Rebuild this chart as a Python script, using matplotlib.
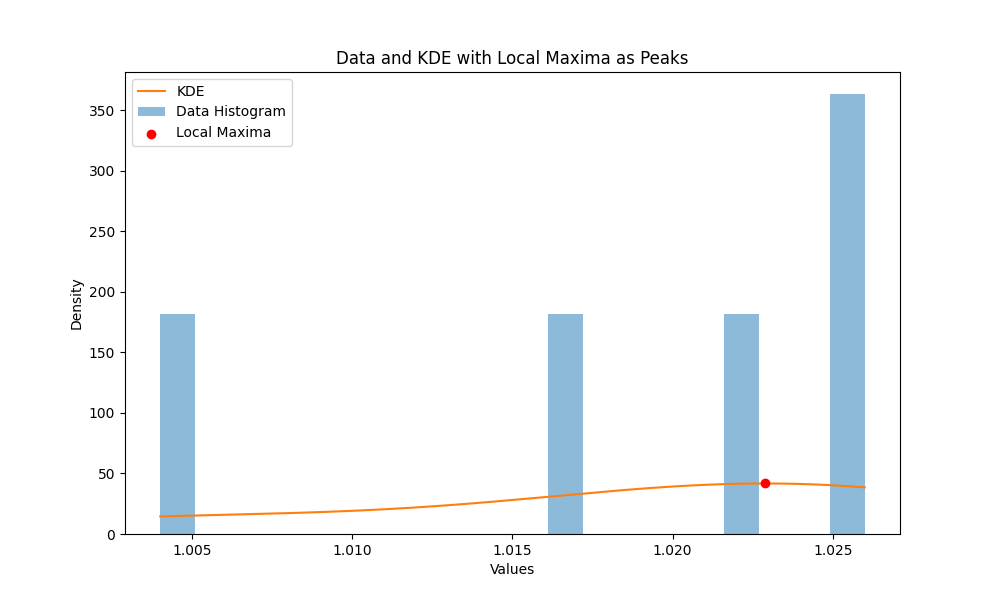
import matplotlib
matplotlib.use("Agg")
import matplotlib.pyplot as plt
import numpy as np

values = np.array([1.004, 1.0165, 1.022, 1.0255, 1.026])
n_bins = 20


def gaussian_kde(data, grid):
    # scott's rule, same as scipy default
    bw = np.std(data, ddof=1) * len(data) ** (-1.0 / 5)
    z = (grid[:, None] - data[None, :]) / bw
    return np.exp(-0.5 * z ** 2).sum(axis=1) / (len(data) * bw * np.sqrt(2 * np.pi))


x = np.linspace(values.min(), values.max(), 1000)
dens = gaussian_kde(values, x)
peaks = np.where((dens[1:-1] > dens[:-2]) & (dens[1:-1] > dens[2:]))[0] + 1

fig, ax = plt.subplots(figsize=(10, 6), dpi=100)
ax.plot(x, dens, color="tab:orange", label="KDE")
ax.hist(values, bins=n_bins, density=True, alpha=0.5, label="Data Histogram")
ax.scatter(x[peaks], dens[peaks], color="red", zorder=3, label="Local Maxima")
ax.set_title("Data and KDE with Local Maxima as Peaks")
ax.set_xlabel("Values")
ax.set_ylabel("Density")
ax.legend(loc="upper left")
fig.savefig("out.png")
